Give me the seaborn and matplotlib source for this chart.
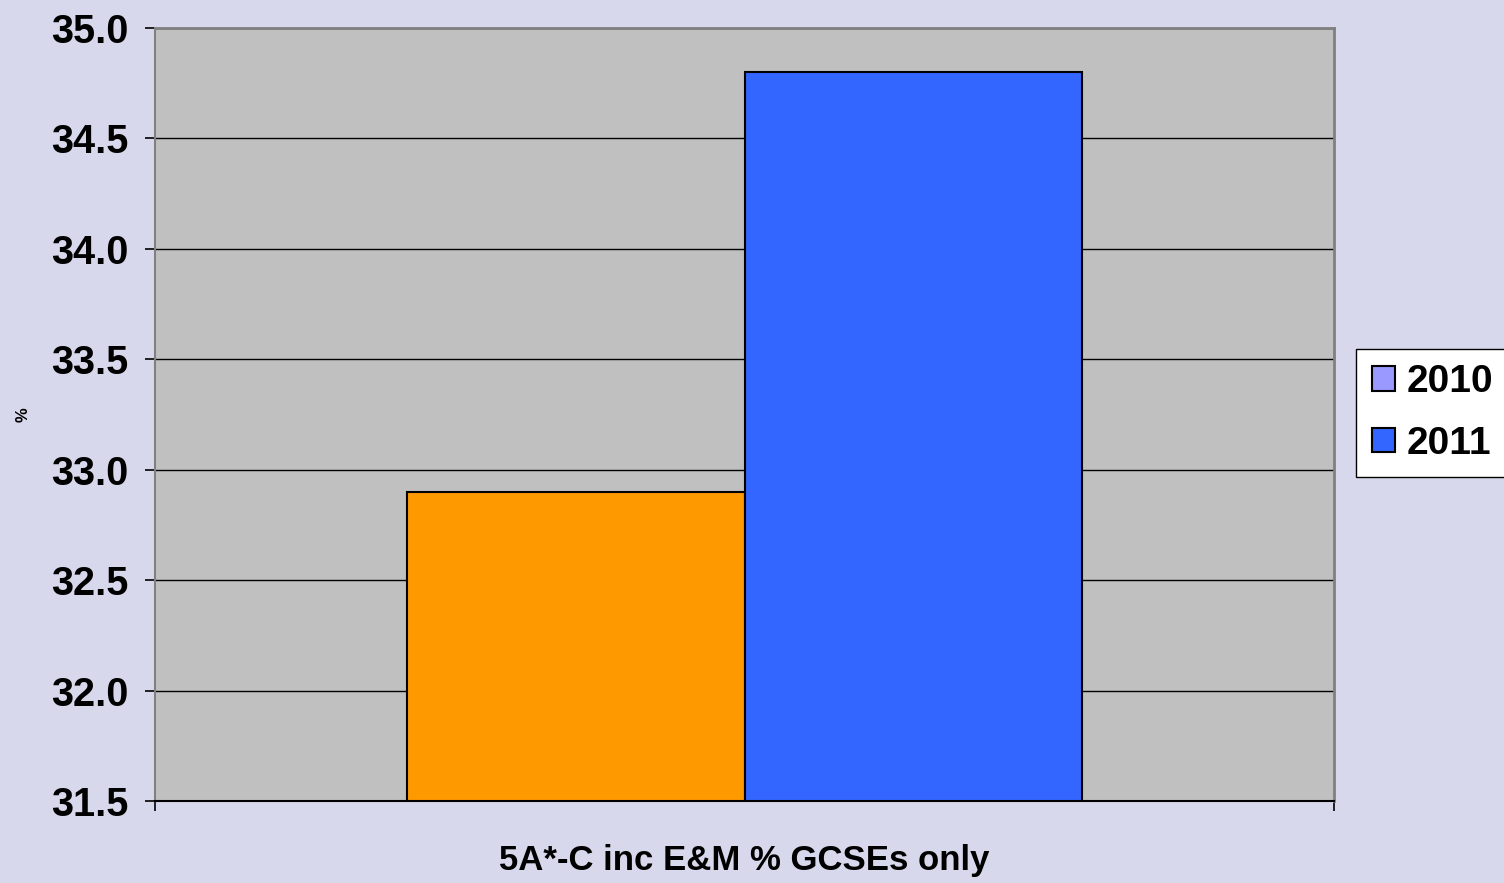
import pandas as pd
import seaborn as sns
import matplotlib.pyplot as plt
from matplotlib.patches import Patch

# values
category = ['5A*-C inc E&M % GCSEs only']
years = ['2010', '2011']
values = [32.9, 34.8]
bar_colors = ['#FF9900', '#3366FF']
legend_colors = ['#9999FF', '#3366FF']  # legend swatch for 2010 differs from its bar in the original
y_ticks = [31.5, 32.0, 32.5, 33.0, 33.5, 34.0, 34.5, 35.0]

sns.set_style("white")
plt.rcParams['font.family'] = ['Liberation Sans', 'DejaVu Sans']
plt.rcParams['text.color'] = 'black'

df = pd.DataFrame({'Category': category * len(years), 'Year': years, 'Value': values})

fig = plt.figure(figsize=(15.04, 8.83), dpi=100)
fig.patch.set_facecolor('#D8D8EC')
ax = fig.add_axes([155 / 1504, 1 - 801 / 883, (1334 - 155) / 1504, (801 - 28) / 883])
ax.set_facecolor('#C0C0C0')

sns.barplot(data=df, x='Category', y='Value', hue='Year', hue_order=years,
            palette=bar_colors, width=0.573, edgecolor='black', linewidth=1.5,
            saturation=1, legend=False, ax=ax)

ax.set_ylim(31.5, 35.0)
ax.set_xlim(-0.5, 0.5)
ax.set_yticks(y_ticks)
ax.set_yticklabels([f'{t:.1f}' for t in y_ticks], fontsize=28.5, fontweight='bold', color='black')
ax.set_xticks([-0.5, 0.5])
ax.set_xticklabels(['', ''])
ax.yaxis.grid(True, color='black', linewidth=1)
ax.set_axisbelow(True)
ax.tick_params(axis='y', direction='out', length=7, width=1.2, color='black', pad=12, left=True)
ax.tick_params(axis='x', direction='out', length=7, width=1.2, color='black', bottom=True)

ax.set_xlabel(category[0], fontsize=25, fontweight='bold', color='black', labelpad=0)
ax.xaxis.set_label_coords(0.5, -(844 - 801) / (801 - 28))
ax.set_ylabel('%', fontsize=12, fontweight='bold', color='black')
ax.yaxis.set_label_coords(-(155 - 31) / (1334 - 155), 0.5)

for side in ['top', 'right']:
    ax.spines[side].set_color('#808080')
    ax.spines[side].set_linewidth(2)
ax.spines['left'].set_color('#808080')
ax.spines['left'].set_linewidth(1.5)
ax.spines['bottom'].set_color('black')
ax.spines['bottom'].set_linewidth(1.5)

handles = [Patch(facecolor=c, edgecolor='black', linewidth=1.5, label=y)
           for c, y in zip(legend_colors, years)]
leg = fig.legend(handles=handles, loc='center left', bbox_to_anchor=(1356 / 1504, 1 - 413 / 883),
                 prop={'weight': 'bold', 'size': 28}, frameon=True, fancybox=False,
                 edgecolor='black', facecolor='white', framealpha=1,
                 handlelength=0.6, handleheight=0.6, handletextpad=0.3,
                 labelspacing=0.65, borderpad=0.4, borderaxespad=0)
leg.get_frame().set_linewidth(1)

fig.savefig('out.png', dpi=100, facecolor=fig.get_facecolor())
